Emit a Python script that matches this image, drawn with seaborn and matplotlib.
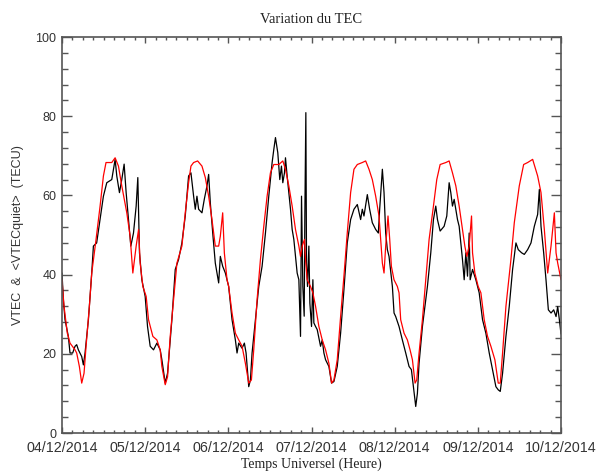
import numpy as np
import pandas as pd
import matplotlib
matplotlib.use("Agg")
import matplotlib.pyplot as plt
from matplotlib.ticker import MultipleLocator
import seaborn as sns

# ---------------- data ----------------
day_labels = ["04/12/2014", "05/12/2014", "06/12/2014", "07/12/2014",
              "08/12/2014", "09/12/2014", "10/12/2014"]
day_positions = [0, 24, 48, 72, 96, 120, 144]

# VTEC (black), hours since 04/12/2014 00 UT
vtec_t = [0, 0.39, 0.87, 1.83, 2.31, 3.08, 3.76, 4.24, 4.72, 5.69, 6.17, 6.65, 7.62, 8.58,
          9.06, 10.0, 10.99, 11.95, 12.92, 14.36, 14.85, 15.33, 15.81, 16.58, 17.25, 17.93,
          18.51, 19.18, 19.86, 20.63, 21.4, 21.88, 22.36, 23.04, 24.0, 24.68, 25.45, 26.41,
          27.38, 28.34, 28.82, 29.79, 30.46, 31.71, 32.68, 33.64, 34.6, 35.57, 36.53, 37.21,
          37.98, 38.46, 38.94, 39.43, 40.39, 41.06, 41.84, 42.32, 42.8, 43.57, 44.24, 44.73,
          45.21, 45.69, 46.37, 47.14, 48.1, 48.59, 49.07, 50.03, 50.51, 51.0, 51.96, 52.63,
          53.12, 53.89, 54.37, 54.85, 55.82, 56.78, 57.74, 58.71, 59.67, 60.64, 61.12, 61.6,
          62.27, 62.85, 63.33, 63.72, 64.2, 64.49, 64.97, 65.46, 65.94, 66.42, 66.9, 67.38,
          67.86, 68.35, 68.83, 69.12, 69.5, 69.89, 70.08, 70.37, 70.56, 70.85, 71.24, 71.53,
          72.01, 72.4, 72.68, 73.17, 73.65, 74.61, 75.1, 75.58, 76.06, 77.02, 77.79, 78.47,
          79.43, 80.4, 81.36, 82.32, 83.29, 84.25, 85.22, 86.18, 86.66, 87.14, 88.11, 88.78,
          89.55, 90.52, 91.29, 91.67, 92.45, 92.93, 93.41, 93.89, 94.37, 95.34, 95.82, 96.3,
          97.26, 98.22, 99.19, 100.15, 100.83, 101.4, 102.08, 102.56, 103.04, 104.01, 104.97,
          105.45, 106.42, 107.19, 107.86, 108.35, 109.12, 110.27, 111.04, 111.72, 112.2,
          112.68, 113.17, 113.65, 114.13, 114.61, 115.09, 115.57, 116.06, 116.54, 117.02,
          117.5, 117.79, 118.47, 119.43, 120.39, 121.36, 122.32, 123.29, 124.25, 125.21,
          125.89, 126.47, 127.14, 128.11, 129.07, 130.03, 131.0, 131.67, 132.64, 133.41,
          134.37, 135.34, 136.3, 137.26, 137.75, 138.23, 139.0, 139.67, 140.35, 141.12,
          141.89, 142.57, 143.05, 143.53, 144.0]
vtec_v = [40.4, 33.7, 28.6, 24.4, 20.2, 20.2, 21.9, 22.3, 21.0, 19.3, 17.2, 20.2, 28.6, 40.4,
          47.2, 48.0, 53.9, 59.8, 63.2, 64.0, 66.6, 69.1, 64.9, 60.7, 64.0, 67.9,
          60.7, 53.9, 47.2, 50.5, 57.3, 64.5, 45.5, 38.7, 34.5, 26.9, 21.9, 21.0,
          22.7, 21.0, 18.5, 12.6, 15.1, 28.6, 41.3, 43.8, 48.0, 54.8, 64.9, 65.7,
          59.8, 56.5, 59.8, 56.5, 55.6, 59.0, 62.4, 65.3, 58.1, 49.7, 42.9, 40.4,
          37.9, 44.6, 42.1, 40.4, 37.0, 32.8, 28.6, 23.5, 20.2, 22.7, 21.4, 22.7,
          20.2, 11.7, 13.4, 20.2, 28.6, 37.0, 42.1, 50.5, 59.8, 68.3, 71.6, 74.6,
          70.8, 64.0, 67.4, 63.2, 65.7, 69.5, 64.9, 60.7, 56.5, 51.4, 48.9, 44.6,
          40.4, 38.7, 24.4, 59.8, 37.0, 29.5, 54.8, 80.9, 42.9, 37.0, 47.2, 32.8,
          26.9, 38.7, 27.8, 26.9, 26.1, 21.9, 23.5, 20.2, 18.5, 16.8, 12.6, 13.0,
          16.8, 25.2, 36.2, 48.0, 53.9, 56.5, 57.7, 53.9, 56.5, 54.8, 60.2, 56.5,
          53.1, 51.4, 50.5, 56.5, 66.6, 60.7, 50.5, 46.3, 44.6, 37.0, 30.3, 29.4,
          26.9, 23.5, 20.2, 16.8, 16.0, 11.7, 6.7, 10.0, 17.6, 26.9, 33.7,
          37.0, 45.5, 53.9, 57.3, 53.9, 51.0, 52.2, 54.8, 63.2, 60.7,
          57.3, 59.0, 56.5, 53.9, 52.2, 48.0, 43.8, 38.7, 45.5, 39.6,
          50.5, 38.7, 41.3, 38.7, 35.4, 28.6, 25.2, 20.2, 16.0, 11.7,
          10.9, 10.5, 15.1, 24.4, 32.0, 41.3, 48.0, 46.3, 45.5, 45.1,
          46.3, 48.0, 52.2, 55.2, 61.5, 52.2, 45.5, 38.7, 31.1, 30.3,
          31.1, 29.4, 31.9, 28.6, 25.0]

# <VTECquiet> (red)
quiet_t = [0, 0.58, 1.54, 2.31, 3.76, 4.24, 5.01, 5.69, 6.36, 6.94, 7.9, 8.58, 9.83, 10.99,
           11.95, 12.7, 14.36, 15.33, 16.29, 17.25, 18.7, 19.66, 20.44, 21.4, 22.1, 22.56,
           23.33, 24.29, 24.97, 26.22, 27.38, 28.34, 28.82, 29.79, 30.46, 31.23, 32.2, 33.16,
           34.6, 35.57, 36.53, 37.21, 37.98, 39.14, 40.39, 41.36, 42.32, 43.28, 44.24, 45.21,
           45.69, 46.37, 46.85, 47.62, 48.1, 49.07, 50.03, 51.0, 51.96, 52.92, 53.89, 54.66,
           55.33, 56.3, 57.26, 58.23, 59.19, 60.15, 61.12, 62.56, 63.72, 64.49, 65.46, 66.42,
           67.38, 68.35, 68.83, 69.31, 69.99, 70.27, 70.76, 71.72, 72.4, 73.17, 74.13, 75.1,
           76.06, 77.02, 77.79, 78.47, 79.43, 80.4, 81.36, 82.32, 83.29, 84.25, 85.22, 86.66,
           87.63, 88.59, 89.55, 90.52, 91.48, 92.45, 92.93, 93.41, 94.08, 94.57, 95.05, 95.81,
           96.78, 97.26, 97.74, 98.71, 99.67, 100.44, 101.12, 101.89, 102.37, 103.04, 104.01,
           104.97, 105.94, 107.19, 108.15, 109.12, 110.76, 111.72, 112.68, 113.65, 114.61,
           115.57, 116.25, 116.83, 117.5, 118.18, 118.47, 119.14, 120.1, 120.88, 121.84,
           122.8, 123.77, 124.92, 125.89, 126.47, 127.14, 128.11, 129.55, 130.52, 131.96,
           133.22, 134.37, 135.82, 137.26, 138.23, 139.19, 140.16, 141.12, 142.08, 142.57,
           143.05, 144.0]
quiet_v = [38.7, 32.0, 25.2, 22.7, 21.0, 20.2, 16.8, 12.6, 15.1, 21.9, 32.0, 40.4, 48.9, 57.3,
           64.9, 68.3, 68.3, 69.5, 67.4, 62.4, 55.6, 49.7, 40.4, 47.2, 51.4, 42.9,
           37.0, 34.5, 28.6, 24.4, 23.5, 21.0, 16.8, 12.2, 14.2, 24.4, 33.7, 42.9,
           47.2, 55.6, 63.2, 67.4, 68.3, 68.7, 67.4, 64.5, 59.8, 53.9, 47.2, 47.2,
           49.7, 55.6, 45.5, 38.7, 37.0, 30.3, 25.2, 23.5, 21.9, 17.6, 12.6, 13.4,
           21.0, 33.7, 43.8, 52.2, 59.8, 65.7, 67.8, 67.8, 68.7, 66.6, 62.4, 57.3,
           51.4, 47.2, 44.6, 47.2, 48.9, 43.8, 38.7, 37.0, 35.4, 32.0, 26.9, 23.5,
           21.0, 17.6, 12.6, 13.4, 18.5, 29.4, 39.6, 50.5, 60.7, 66.6, 67.8, 68.3,
           68.7, 66.6, 64.0, 59.8, 54.8, 42.9, 40.4, 47.2, 54.8, 48.9, 42.1, 38.7,
           37.0, 35.4, 28.6, 25.2, 23.5, 21.0, 18.5, 12.6, 13.4, 20.2, 28.6,
           38.7, 48.9, 57.3, 64.0, 67.8, 68.3, 68.7, 65.7, 62.4, 57.3,
           51.4, 47.2, 44.6, 47.2, 54.8, 45.5, 40.4, 37.0, 35.4, 28.6,
           24.4, 21.9, 18.5, 12.6, 12.6, 20.2, 32.0, 43.8, 53.1, 62.4,
           67.8, 68.3, 69.1, 64.9, 60.7, 51.4, 40.4, 47.2, 55.6, 45.5,
           42.9, 38.7]

y_ticks = [0, 20, 40, 60, 80, 100]

# ---------------- figure ----------------
sns.set_style("ticks")
plt.rcParams['font.family'] = ['Liberation Sans', 'DejaVu Sans']

fig = plt.figure(figsize=(6.05, 4.72), dpi=100)
ax = fig.add_axes([62 / 605, (472 - 433) / 472, (561 - 62) / 605, (433 - 37) / 472])

df_v = pd.DataFrame({"t": vtec_t, "v": vtec_v})
df_q = pd.DataFrame({"t": quiet_t, "v": quiet_v})
sns.lineplot(data=df_v, x="t", y="v", color="black", linewidth=0.9,
             estimator=None, sort=False, ax=ax)
sns.lineplot(data=df_q, x="t", y="v", color="#ff0000", linewidth=0.9,
             estimator=None, sort=False, ax=ax)

ax.set_xlim(0, 144)
ax.set_ylim(0, 100)
ax.set_xticks(day_positions)
ax.set_xticklabels(day_labels, fontsize=10.3)
ax.set_yticks(y_ticks)
ax.set_yticklabels([str(v) for v in y_ticks], fontsize=9)
ax.xaxis.set_minor_locator(MultipleLocator(3))
ax.yaxis.set_minor_locator(MultipleLocator(4))

spine_col = "#555555"
for s in ax.spines.values():
    s.set_visible(True)
    s.set_color(spine_col)
    s.set_linewidth(1.2)
ax.tick_params(axis="x", which="major", direction="in", length=4, width=1.0,
               color=spine_col, top=True, bottom=True, pad=6, labelcolor="#333333")
ax.tick_params(axis="x", which="minor", direction="in", length=2.5, width=1.0,
               color=spine_col, top=True, bottom=True)
ax.tick_params(axis="y", which="major", direction="in", length=7, width=1.0,
               color=spine_col, left=True, right=True, pad=4, labelcolor="#333333")
ax.tick_params(axis="y", which="minor", direction="in", length=4, width=1.0,
               color=spine_col, left=True, right=True)

ax.set_title("Variation du TEC", fontsize=10.5, family=["Liberation Serif"],
             color="#222222", pad=10)
ax.set_xlabel("Temps Universel (Heure)", fontsize=10, family=["Liberation Serif"],
              color="#222222", labelpad=1.5)
ax.set_ylabel("VTEC  &  <VTECquiet>  (TECU)", fontsize=9, color="#333333", labelpad=8)

fig.savefig("out.png", dpi=100)
